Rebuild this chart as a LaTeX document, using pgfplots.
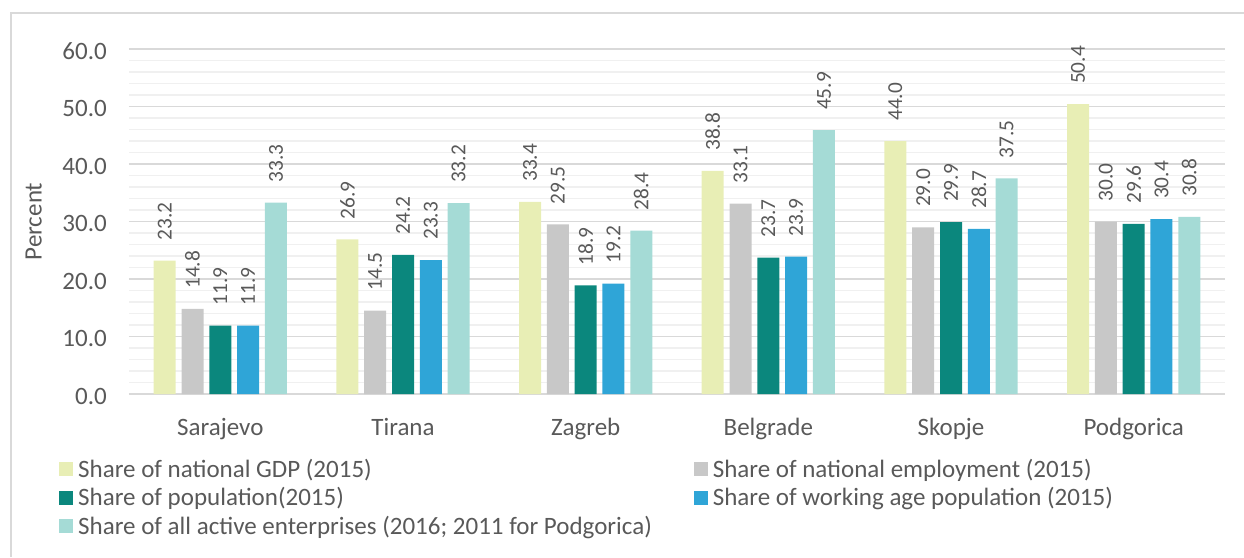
\documentclass[border=0pt]{standalone}
\usepackage{fontspec}
\setmainfont{Carlito}
\usepackage{graphicx}
\usepackage{pgfplots}
\pgfplotsset{compat=1.18}
\definecolor{cGDP}{HTML}{E8EEB5}
\definecolor{cEmp}{HTML}{C8C8C8}
\definecolor{cPop}{HTML}{0B877D}
\definecolor{cWork}{HTML}{2FA5D7}
\definecolor{cEnt}{HTML}{A5DBD6}
\definecolor{txt}{HTML}{595959}
\definecolor{gridmaj}{HTML}{D9D9D9}
\definecolor{gridmin}{HTML}{F0F0F0}
\begin{document}
\begin{tikzpicture}
\useasboundingbox (0,0) rectangle (933pt,-417.75pt);
\draw[gridmaj, line width=1.1pt] (8.25pt,-417.75pt) -- (8.25pt,-9.75pt) -- (933pt,-9.75pt);
\begin{axis}[
  at={(96.75pt,-295.5pt)}, anchor=south west,
  width=822pt, height=258.75pt, scale only axis,
  ybar=4.35pt, bar width=16.5pt,
  xmin=-0.5, xmax=5.5, ymin=0, ymax=60,
  clip=false,
  axis line style={draw=none},
  major tick length=0pt, minor tick length=0pt,
  xtick={0,...,5},
  xticklabels={Sarajevo,Tirana,Zagreb,Belgrade,Skopje,Podgorica},
  ytick={0,10,...,60},
  minor y tick num=4,
  ymajorgrids, yminorgrids,
  major grid style={gridmaj, line width=1.1pt},
  minor grid style={gridmin, line width=1.1pt},
  /pgf/number format/assume math mode=true,
  /pgf/number format/fixed,
  /pgf/number format/fixed zerofill,
  /pgf/number format/precision=1,
  tick label style={font=\fontsize{18.75}{22}\selectfont, text=txt},
  xticklabel style={anchor=base, yshift=-30.75pt},
  yticklabel style={anchor=base east, inner sep=0pt, xshift=-16.5pt, yshift=-7.5pt},
  ylabel={Percent},
  every axis y label/.style={at={(axis description cs:-0.0797,0.5)}, rotate=90, anchor=base, font=\fontsize{18.75}{22}\selectfont, text=txt},
  nodes near coords={\rotatebox{90}{\pgfmathprintnumber{\pgfplotspointmeta}}},
  every node near coord/.append style={anchor=south, inner ysep=15pt, inner xsep=0pt, font=\fontsize{16}{18}\selectfont, text=txt},
  legend columns=2,
  legend cell align=left,
  legend style={at={(axis description cs:-0.0639,-0.176)}, anchor=north west, draw=none, fill=none, inner sep=0pt,
    font=\fontsize{18.75}{22}\selectfont, text=txt,
    nodes={inner sep=0pt, text height=16.7pt, text depth=4.7pt},
    /tikz/every odd column/.append style={column sep=3.75pt},
    /tikz/column 2/.append style={column sep=31.5pt}},
]
\addplot[fill=cGDP, draw=none,
  legend image code/.code={\fill[cGDP] (0pt,-5.25pt) rectangle (10.5pt,5.25pt);}]
  coordinates {(0,23.2) (1,26.9) (2,33.4) (3,38.8) (4,44.0) (5,50.4)};
\addlegendentry{Share of national GDP (2015)}
\addplot[fill=cEmp, draw=none,
  legend image code/.code={\fill[cEmp] (0pt,-5.25pt) rectangle (10.5pt,5.25pt);}]
  coordinates {(0,14.8) (1,14.5) (2,29.5) (3,33.1) (4,29.0) (5,30.0)};
\addlegendentry{Share of national employment (2015)}
\addplot[fill=cPop, draw=none,
  legend image code/.code={\fill[cPop] (0pt,-5.25pt) rectangle (10.5pt,5.25pt);}]
  coordinates {(0,11.9) (1,24.2) (2,18.9) (3,23.7) (4,29.9) (5,29.6)};
\addlegendentry{Share of population(2015)}
\addplot[fill=cWork, draw=none,
  legend image code/.code={\fill[cWork] (0pt,-5.25pt) rectangle (10.5pt,5.25pt);}]
  coordinates {(0,11.9) (1,23.3) (2,19.2) (3,23.9) (4,28.7) (5,30.4)};
\addlegendentry{Share of working age population (2015)}
\addplot[fill=cEnt, draw=none,
  legend image code/.code={\fill[cEnt] (0pt,-5.25pt) rectangle (10.5pt,5.25pt);}]
  coordinates {(0,33.3) (1,33.2) (2,28.4) (3,45.9) (4,37.5) (5,30.8)};
\addlegendentry{Share of all active enterprises (2016; 2011 for Podgorica)}
\end{axis}
\end{tikzpicture}
\end{document}
